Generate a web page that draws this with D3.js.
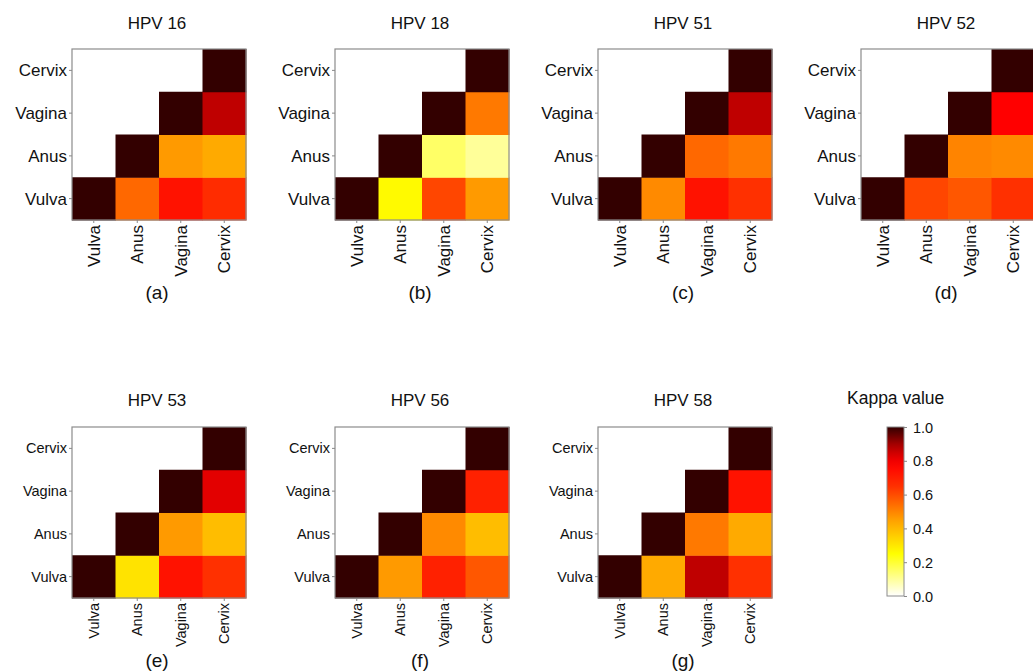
<!DOCTYPE html>
<html>
<head>
<meta charset="utf-8">
<script src="https://cdn.jsdelivr.net/npm/d3@7"></script>
<style>
  body { margin: 0; background: #fff; }
  svg { display: block; font-family: "Liberation Sans", Arial, sans-serif; }
  .tick line { stroke: #888; }
  .tick text { fill: #111; }
</style>
</head>
<body>
<svg id="chart" width="1033" height="671"></svg>
<script>
// sites on both axes (rows bottom -> top, columns left -> right)
const sites = ["Vulva", "Anus", "Vagina", "Cervix"];
const types = ["HPV 16", "HPV 18", "HPV 51", "HPV 52", "HPV 53", "HPV 56", "HPV 58"];
const letters = ["(a)", "(b)", "(c)", "(d)", "(e)", "(f)", "(g)"];
const legendTicks = [0, 0.2, 0.4, 0.6, 0.8, 1.0];

// kappa values, row = y site, column = x site (upper triangle only)
const hpv16 = [[1, 0.55, 0.73, 0.66], [null, 1, 0.46, 0.43], [null, null, 1, 0.87], [null, null, null, 1]];
const hpv18 = [[1, 0.26, 0.61, 0.46], [null, 1, 0.15, 0.10], [null, null, 1, 0.52], [null, null, null, 1]];
const hpv51 = [[1, 0.49, 0.73, 0.65], [null, 1, 0.55, 0.52], [null, null, 1, 0.87], [null, null, null, 1]];
const hpv52 = [[1, 0.61, 0.58, 0.65], [null, 1, 0.50, 0.49], [null, null, 1, 0.78], [null, null, null, 1]];
const hpv53 = [[1, 0.31, 0.73, 0.65], [null, 1, 0.46, 0.39], [null, null, 1, 0.82], [null, null, null, 1]];
const hpv56 = [[1, 0.46, 0.69, 0.58], [null, 1, 0.49, 0.39], [null, null, 1, 0.69], [null, null, null, 1]];
const hpv58 = [[1, 0.43, 0.87, 0.65], [null, 1, 0.52, 0.43], [null, null, 1, 0.73], [null, null, null, 1]];
const matrices = [hpv16, hpv18, hpv51, hpv52, hpv53, hpv56, hpv58];

// layout of each small panel (plot area) and its text size
const layout = [
  {x: 72,  y: 49,  font: 17, titleY: 29, subY: 299},
  {x: 335, y: 49,  font: 17, titleY: 29, subY: 299},
  {x: 598, y: 49,  font: 17, titleY: 29, subY: 299},
  {x: 861, y: 49,  font: 17, titleY: 29, subY: 299},
  {x: 72,  y: 427, font: 14.5, titleY: 405.5, subY: 666.5},
  {x: 335, y: 427, font: 14.5, titleY: 405.5, subY: 666.5},
  {x: 598, y: 427, font: 14.5, titleY: 405.5, subY: 666.5}
];
const pw = 174, ph = 171;

const color = d3.scaleLinear()
  .domain([0, 0.25, 0.45, 0.65, 0.78, 0.88, 1])
  .range(["#ffffff", "#ffff00", "#ffa000", "#ff3000", "#ff0000", "#b80000", "#330000"])
  .interpolate(d3.interpolateRgb)
  .clamp(true);

const svg = d3.select("#chart");

types.forEach((t, i) => {
  const L = layout[i];
  const g = svg.append("g").attr("transform", "translate(" + L.x + "," + L.y + ")");

  const x = d3.scaleBand().domain(sites).range([0, pw]);
  const y = d3.scaleBand().domain(sites).range([ph, 0]);

  const cells = [];
  matrices[i].forEach((row, r) => row.forEach((v, c) => {
    if (v !== null) cells.push({row: sites[r], col: sites[c], v: v});
  }));

  g.selectAll("rect.cell")
    .data(cells)
    .enter().append("rect")
    .attr("class", "cell")
    .attr("x", d => x(d.col))
    .attr("y", d => y(d.row))
    .attr("width", x.bandwidth() + 0.5)
    .attr("height", y.bandwidth() + 0.5)
    .attr("fill", d => color(d.v));

  // panel border
  g.append("rect")
    .attr("width", pw).attr("height", ph)
    .attr("fill", "none").attr("stroke", "#8c8c8c").attr("stroke-width", 1.2);

  // y axis
  const ya = g.append("g").call(d3.axisLeft(y).tickSize(3).tickPadding(2));
  ya.select(".domain").remove();
  ya.selectAll("text").style("font-size", L.font + "px").attr("dy", "0.35em");

  // x axis with rotated labels
  const xa = g.append("g")
    .attr("transform", "translate(0," + ph + ")")
    .call(d3.axisBottom(x).tickSize(3).tickPadding(2));
  xa.select(".domain").remove();
  xa.selectAll("text")
    .style("font-size", L.font + "px")
    .attr("transform", "rotate(-90)")
    .attr("text-anchor", "end")
    .attr("x", -5).attr("y", 0)
    .attr("dy", "0.35em");

  // title and panel letter
  svg.append("text")
    .attr("x", L.x + pw / 2 - 2).attr("y", L.titleY)
    .attr("text-anchor", "middle")
    .style("font-size", "17px").attr("fill", "#111")
    .text(t);
  svg.append("text")
    .attr("x", L.x + pw / 2 - 2).attr("y", L.subY)
    .attr("text-anchor", "middle")
    .style("font-size", "19px").attr("fill", "#111")
    .text(letters[i]);
});

// colour legend
const lg = {x: 887, y: 427, w: 17, h: 169};
const defs = svg.append("defs");
const grad = defs.append("linearGradient")
  .attr("id", "kappa").attr("x1", 0).attr("y1", 1).attr("x2", 0).attr("y2", 0);
grad.selectAll("stop")
  .data(d3.range(0, 1.0001, 0.05))
  .enter().append("stop")
  .attr("offset", d => d)
  .attr("stop-color", d => color(d));

svg.append("text")
  .attr("x", 847).attr("y", 404)
  .style("font-size", "17.5px").attr("fill", "#111")
  .text("Kappa value");

svg.append("rect")
  .attr("x", lg.x).attr("y", lg.y).attr("width", lg.w).attr("height", lg.h)
  .attr("fill", "url(#kappa)").attr("stroke", "#8c8c8c").attr("stroke-width", 1);

const ly = d3.scaleLinear().domain([0, 1]).range([lg.y + lg.h, lg.y]);
const la = svg.append("g")
  .attr("transform", "translate(" + (lg.x + lg.w) + ",0)")
  .call(d3.axisRight(ly).tickValues(legendTicks).tickFormat(d3.format(".1f")).tickSize(3).tickPadding(6));
la.select(".domain").remove();
la.selectAll("text").style("font-size", "14.5px").attr("dy", "0.35em");
</script>
</body>
</html>
